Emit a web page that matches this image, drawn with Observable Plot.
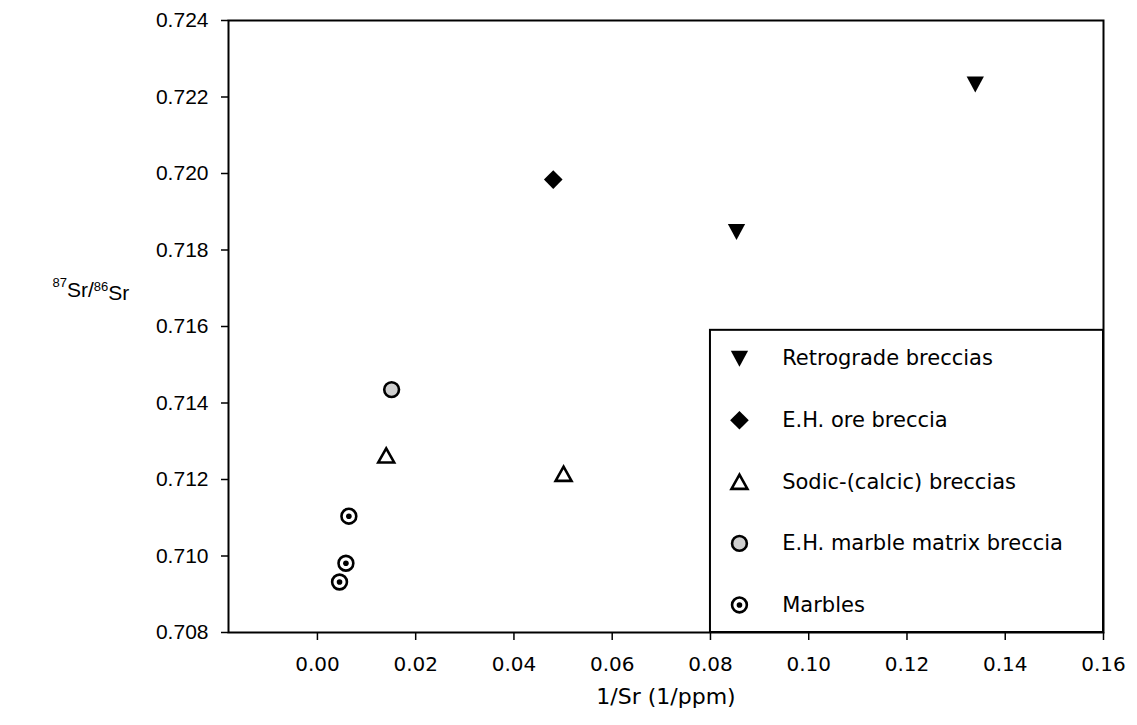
<!DOCTYPE html>
<html><head><meta charset="utf-8">
<script src="https://cdn.jsdelivr.net/npm/d3@7"></script>
<script src="https://cdn.jsdelivr.net/npm/@observablehq/plot@0.6"></script>
<style>body{margin:0;background:#fff;}</style>
</head><body><div id="chart"></div>
<script>
// ---- data ----
const groups = ["Retrograde breccias", "E.H. ore breccia", "Sodic-(calcic) breccias", "E.H. marble matrix breccia", "Marbles"];
const retroX = [0.1339, 0.0853];
const retroY = [0.72233, 0.71847];
const oreX = [0.0480];
const oreY = [0.71984];
const sodicX = [0.0140, 0.0501];
const sodicY = [0.71263, 0.71215];
const matrixX = [0.0151];
const matrixY = [0.71435];
const marbleX = [0.0064, 0.0058, 0.0045];
const marbleY = [0.71104, 0.70981, 0.70932];
const xTicks = [0, 0.02, 0.04, 0.06, 0.08, 0.10, 0.12, 0.14, 0.16];
const yTicks = [0.708, 0.710, 0.712, 0.714, 0.716, 0.718, 0.720, 0.722, 0.724];

// ---- symbols ----
const triDown = {draw(ctx, size) {const r = Math.sqrt(size / Math.PI); ctx.moveTo(-1.35 * r, -1.25 * r); ctx.lineTo(1.35 * r, -1.25 * r); ctx.lineTo(0, 1.25 * r); ctx.closePath();}};
const triUp = {draw(ctx, size) {const r = Math.sqrt(size / Math.PI); ctx.moveTo(0, -1.2 * r); ctx.lineTo(1.35 * r, 1.2 * r); ctx.lineTo(-1.35 * r, 1.2 * r); ctx.closePath();}};

const toRows = (xs, ys, g) => xs.map((x, i) => ({x, y: ys[i], g}));
const retro = toRows(retroX, retroY, groups[0]);
const ore = toRows(oreX, oreY, groups[1]);
const sodic = toRows(sodicX, sodicY, groups[2]);
const matrix = toRows(matrixX, matrixY, groups[3]);
const marbles = toRows(marbleX, marbleY, groups[4]);

// legend layout (in plot coordinates)
const legX = 0.0859, legTextX = 0.0946;
const legRows = groups.map((g, i) => ({g, x: legX, y: 0.71516 - i * 0.00161}));
const byG = g => legRows.filter(d => d.g === g);

function styleMarks(data, g) {
  switch (g) {
    case groups[0]: return [Plot.dot(data, {x: "x", y: "y", symbol: triDown, r: 6.4, fill: "#000", stroke: "none"})];
    case groups[1]: return [Plot.dot(data, {x: "x", y: "y", symbol: "diamond2", r: 8.4, fill: "#000", stroke: "none"})];
    case groups[2]: return [Plot.dot(data, {x: "x", y: "y", symbol: triUp, r: 5.9, fill: "#fff", stroke: "#000", strokeWidth: 2.6})];
    case groups[3]: return [Plot.dot(data, {x: "x", y: "y", r: 7.4, fill: "#cfcfcf", stroke: "#000", strokeWidth: 2.6})];
    case groups[4]: return [
      Plot.dot(data, {x: "x", y: "y", r: 7.4, fill: "#fff", stroke: "#000", strokeWidth: 2.6}),
      Plot.dot(data, {x: "x", y: "y", r: 2.8, fill: "#000", stroke: "none"})
    ];
  }
}

const sansA = "Liberation Sans, Arial, sans-serif";
const sansB = "DejaVu Sans, sans-serif";

const chart = Plot.plot({
  width: 1137, height: 725,
  marginLeft: 228, marginRight: 34, marginTop: 20, marginBottom: 93,
  style: {fontFamily: sansA, fontSize: "18px", color: "#000", background: "#fff"},
  x: {domain: [-0.0181, 0.16]},
  y: {domain: [0.708, 0.724]},
  marks: [
    Plot.axisX({ticks: xTicks, tickFormat: d3.format(".2f"), tickSize: 8, tickPadding: 16, label: null, fontSize: 20, fontFamily: sansB, strokeWidth: 1.5}),
    Plot.axisY({ticks: yTicks, tickFormat: d3.format(".3f"), tickSize: 7, tickPadding: 13, label: null, fontSize: 21, fontFamily: sansA, strokeWidth: 1.5}),
    Plot.frame({stroke: "#000", strokeWidth: 2}),
    ...styleMarks(retro, groups[0]),
    ...styleMarks(ore, groups[1]),
    ...styleMarks(sodic, groups[2]),
    ...styleMarks(matrix, groups[3]),
    ...styleMarks(marbles, groups[4]),
    // legend box
    Plot.rect([{}], {x1: () => 0.08, x2: () => 0.16, y1: () => 0.708, y2: () => 0.7159, fill: "#fff", stroke: "#000", strokeWidth: 2}),
    ...groups.flatMap(g => styleMarks(byG(g), g)),
    Plot.text(legRows, {x: () => legTextX, y: "y", text: "g", textAnchor: "start", fontSize: 21, fontFamily: sansB, fill: "#000"}),
    // axis titles
    Plot.text(["1/Sr (1/ppm)"], {frameAnchor: "bottom", dy: 71, fontSize: 22, fontFamily: sansB, fill: "#000"}),
    Plot.text(["87Sr/86Sr"], {frameAnchor: "left", dx: -176, dy: -40, fontSize: 21, fontFamily: sansA, fill: "#000"})
  ]
});
document.getElementById("chart").appendChild(chart);

// superscripts for the isotope label
d3.select(chart).selectAll("text").filter(function () { return this.textContent === "87Sr/86Sr"; }).each(function () {
  const t = d3.select(this);
  t.text(null);
  t.append("tspan").attr("font-size", 13).attr("dy", "-0.45em").text("87");
  t.append("tspan").attr("dy", "0.45em").text("Sr/");
  t.append("tspan").attr("font-size", 13).attr("dy", "-0.45em").text("86");
  t.append("tspan").attr("dy", "0.45em").text("Sr");
});
</script>
</body></html>
